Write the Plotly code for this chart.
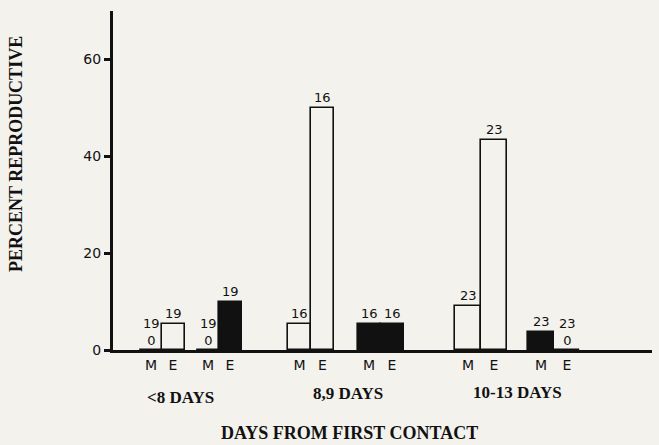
import plotly.graph_objects as go

# ---- data -------------------------------------------------------------
groups = ["<8 DAYS", "8,9 DAYS", "10-13 DAYS"]
pair_labels = ["M", "E"]

# percent reproductive
open_m = [0.0, 5.3, 9.0]
open_e = [5.3, 50.0, 43.3]
solid_m = [0.0, 5.3, 3.7]
solid_e = [10.0, 5.3, 0.0]

# sample sizes printed above each bar
n_open_m = [19, 16, 23]
n_open_e = [19, 16, 23]
n_solid_m = [19, 16, 23]
n_solid_e = [19, 16, 23]

y_ticks = [0, 20, 40, 60]

# ---- layout helpers (bar slots along the x axis) ------------------------
pos_open_m = [151, 299.5, 468]
pos_open_e = [173, 322.5, 494]
pos_solid_m = [208, 369, 541]
pos_solid_e = [230, 392, 567]
bar_w = [23, 23, 26]
group_label_x = [180, 348, 517]
group_label_shift = [-47, -43, -42]

BG = "#f3f2ed"
INK = "#111111"
NUM_FONT = dict(family="DejaVu Sans", size=13, color=INK)
SERIF = "Liberation Serif"

fig = go.Figure()

open_x = pos_open_m + pos_open_e
open_y = open_m + open_e
solid_x = pos_solid_m + pos_solid_e
solid_y = solid_m + solid_e
widths = bar_w + bar_w

fig.add_trace(go.Bar(
    x=open_x, y=open_y, width=widths,
    marker=dict(color=BG, line=dict(color=INK, width=1.6)),
    hoverinfo="skip", showlegend=False,
))
fig.add_trace(go.Bar(
    x=solid_x, y=solid_y, width=widths,
    marker=dict(color=INK, line=dict(color=INK, width=1.6)),
    hoverinfo="skip", showlegend=False,
))

# sample-size labels; bars at zero also carry a "0"
annotations = []
for xs, ys, ns in [(pos_open_m, open_m, n_open_m), (pos_open_e, open_e, n_open_e),
                   (pos_solid_m, solid_m, n_solid_m), (pos_solid_e, solid_e, n_solid_e)]:
    for x, y, n in zip(xs, ys, ns):
        text = f"{n}<br>0" if y == 0 else str(n)
        annotations.append(dict(
            x=x, y=y, xref="x", yref="y", text=text, showarrow=False,
            yanchor="bottom", xanchor="center", yshift=0 if y == 0 else 1,
            font=NUM_FONT, align="center",
        ))

# group labels beneath the M/E ticks
for gx, g, sh in zip(group_label_x, groups, group_label_shift):
    annotations.append(dict(
        x=gx, y=0, xref="x", yref="paper", text=f"<b>{g}</b>", showarrow=False,
        yanchor="middle", xanchor="center", yshift=sh,
        font=dict(family=SERIF, size=17, color=INK),
    ))

# axis titles
annotations.append(dict(
    x=349, y=0, xref="x", yref="paper", text="<b>DAYS FROM FIRST CONTACT</b>",
    showarrow=False, yanchor="middle", xanchor="center", yshift=-83,
    font=dict(family=SERIF, size=18, color=INK),
))
annotations.append(dict(
    x=0, y=0.578, xref="paper", yref="paper", text="<b>PERCENT REPRODUCTIVE</b>",
    showarrow=False, textangle=-90, xanchor="center", yanchor="middle", xshift=-97,
    font=dict(family=SERIF, size=18, color=INK),
))

tick_vals = pos_open_m + pos_open_e + pos_solid_m + pos_solid_e
tick_text = [pair_labels[0]] * 3 + [pair_labels[1]] * 3 + [pair_labels[0]] * 3 + [pair_labels[1]] * 3

fig.update_layout(
    width=659, height=445,
    margin=dict(l=113, r=7, t=11, b=95),
    paper_bgcolor=BG, plot_bgcolor=BG,
    bargap=0, barmode="overlay",
    annotations=annotations,
    xaxis=dict(
        range=[113, 652], showgrid=False, zeroline=False,
        showline=True, linecolor=INK, linewidth=2.5,
        tickvals=tick_vals, ticktext=tick_text, ticks="",
        tickfont=dict(family="DejaVu Sans", size=14, color=INK),
        fixedrange=True,
    ),
    yaxis=dict(
        range=[0, 70], showgrid=False, zeroline=False,
        showline=True, linecolor=INK, linewidth=3,
        tickvals=y_ticks, ticks="outside", ticklen=6, tickwidth=3, tickcolor=INK,
        tickfont=dict(family="DejaVu Sans", size=14, color=INK),
        fixedrange=True,
    ),
)

fig.write_html("out.html")
